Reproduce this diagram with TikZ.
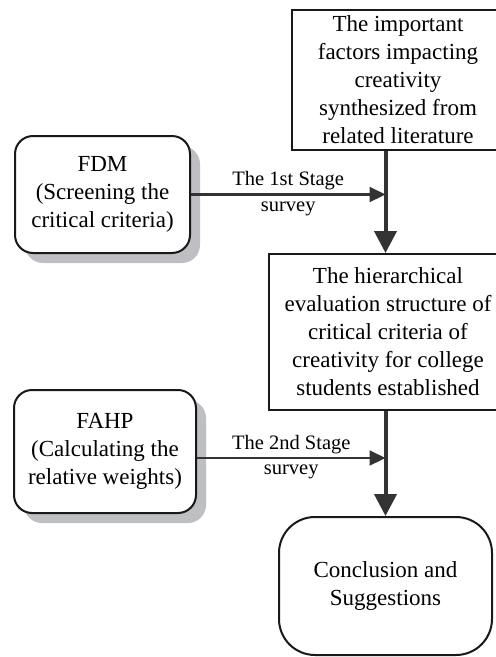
\documentclass[tikz,border=0pt]{standalone}
\usepackage{fontspec}
\setmainfont{Liberation Serif}
\usetikzlibrary{arrows.meta,shadows}

\definecolor{linegray}{HTML}{333333}
\definecolor{shadegray}{HTML}{BEBFC3}

\begin{document}
\begin{tikzpicture}[x=1pt,y=-1pt,
    box/.style={draw=black!90,line width=2pt,align=center,inner sep=0pt,
        font=\fontsize{23}{28}\selectfont},
    roundbox/.style={box,rounded corners=18pt,fill=white,
        drop shadow={shadow xshift=10pt,shadow yshift=-10pt,fill=shadegray,opacity=1}},
    mainarrow/.style={draw=linegray,line width=4pt,
        -{Triangle[length=22pt,width=22pt]}},
    sidearrow/.style={draw=linegray,line width=2.2pt,
        -{Triangle[length=16pt,width=15pt]}},
    stagelabel/.style={font=\fontsize{20.5}{24}\selectfont,inner sep=1pt}]
    \useasboundingbox (0,0) rectangle (496,657);
    \clip (0,0) rectangle (496,657);

    % the two square boxes run off the right edge
    \node[box,minimum width=212pt,minimum height=140pt] (factors) at (398,80)
    {The important\\factors impacting\\creativity\\synthesized from\\related literature};
    \node[box,minimum width=238pt,minimum height=156pt] (structure) at (388,332)
    {The hierarchical\\evaluation structure of\\critical criteria of\\creativity for college\\students established};
    \node[box,rounded corners=36pt,minimum width=213pt,minimum height=138pt] (conclusion) at (385.5,586)
    {Conclusion and\\Suggestions};

    \node[roundbox,minimum width=175pt,minimum height=117pt] (fdm) at (102.5,194.5)
    {FDM\\(Screening the\\critical criteria)};
    \node[roundbox,minimum width=182pt,minimum height=123pt] (fahp) at (105,451.5)
    {FAHP\\(Calculating the\\relative weights)};

    \draw[mainarrow] (factors.south -| conclusion.north) -- (structure.north -| conclusion.north);
    \draw[mainarrow] (structure.south -| conclusion.north) -- (conclusion.north);

    \draw[sidearrow] (fdm.east) -- (fdm.east -| conclusion.north)
        node[stagelabel,midway,above=2pt] {The 1st Stage}
        node[stagelabel,midway,below=5pt] {survey};
    \draw[sidearrow] (fahp.east |- 0,458) -- (conclusion.north |- 0,458)
        node[stagelabel,midway,above=2pt] {The 2nd Stage}
        node[stagelabel,midway,below=5pt] {survey};
\end{tikzpicture}
\end{document}
